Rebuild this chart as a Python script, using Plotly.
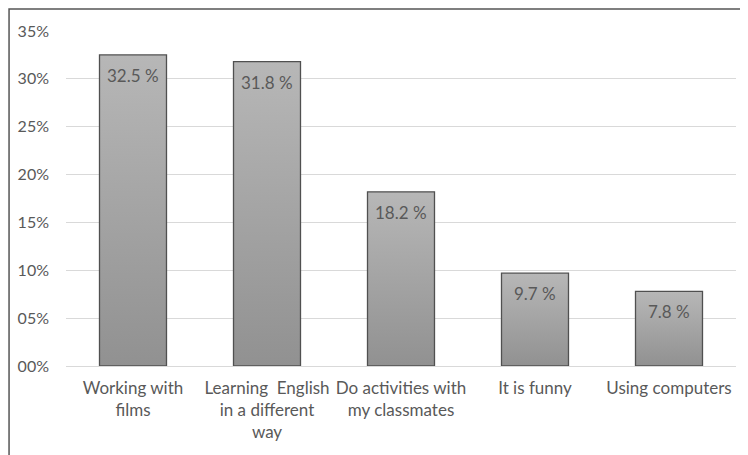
import plotly.graph_objects as go

categories = ["Working with<br>films", "Learning  English<br>in a different<br>way",
              "Do activities with<br>my classmates", "It is funny", "Using computers"]
values = [32.5, 31.8, 18.2, 9.7, 7.8]
value_labels = ["32.5 %", "31.8 %", "18.2 %", "9.7 %", "7.8 %"]
tick_vals = [0, 5, 10, 15, 20, 25, 30, 35]
tick_text = ["00%", "05%", "10%", "15%", "20%", "25%", "30%", "35%"]

FONT = "Lato, 'Open Sans', sans-serif"
TXT = "#595959"
half = 0.25

fig = go.Figure()
for i, v in enumerate(values):
    fig.add_trace(go.Scatter(
        x=[i - half, i - half, i + half, i + half, i - half],
        y=[0, v, v, 0, 0],
        mode="lines",
        fill="toself",
        fillgradient=dict(type="vertical",
                          colorscale=[[0, "#919191"], [1, "#b7b7b7"]]),
        line=dict(color="#505050", width=1.3),
        hoverinfo="skip",
        showlegend=False,
    ))
    fig.add_annotation(x=i, y=v, text=value_labels[i], showarrow=False,
                       yanchor="top", yshift=-8,
                       font=dict(family=FONT, size=17, color=TXT))

fig.update_layout(
    width=748, height=455,
    margin=dict(l=58, r=20, t=23, b=97),
    paper_bgcolor="white", plot_bgcolor="white",
    font=dict(family=FONT, size=17, color=TXT),
    showlegend=False,
    xaxis=dict(range=[-0.5, 4.5], tickmode="array",
               tickvals=list(range(len(categories))), ticktext=categories,
               showgrid=False, zeroline=False, showline=False, ticks="",
               ticklabelstandoff=10, automargin=False,
               tickfont=dict(family=FONT, size=17, color=TXT), tickangle=0),
    yaxis=dict(range=[0, 35], tickmode="array", tickvals=tick_vals, ticktext=tick_text,
               showgrid=True, gridcolor="#d9d9d9", gridwidth=1,
               zeroline=True, zerolinecolor="#d9d9d9", zerolinewidth=1,
               showline=False, ticks="", ticklen=0, ticklabelstandoff=16,
               automargin=False,
               tickfont=dict(family=FONT, size=16, color=TXT)),
    shapes=[dict(type="rect", xref="paper", yref="paper",
                 x0=-0.085, x1=1.05, y0=-0.3, y1=1.0657,
                 line=dict(color="#555555", width=1.5), layer="below")],
)

fig.write_html("out.html")
